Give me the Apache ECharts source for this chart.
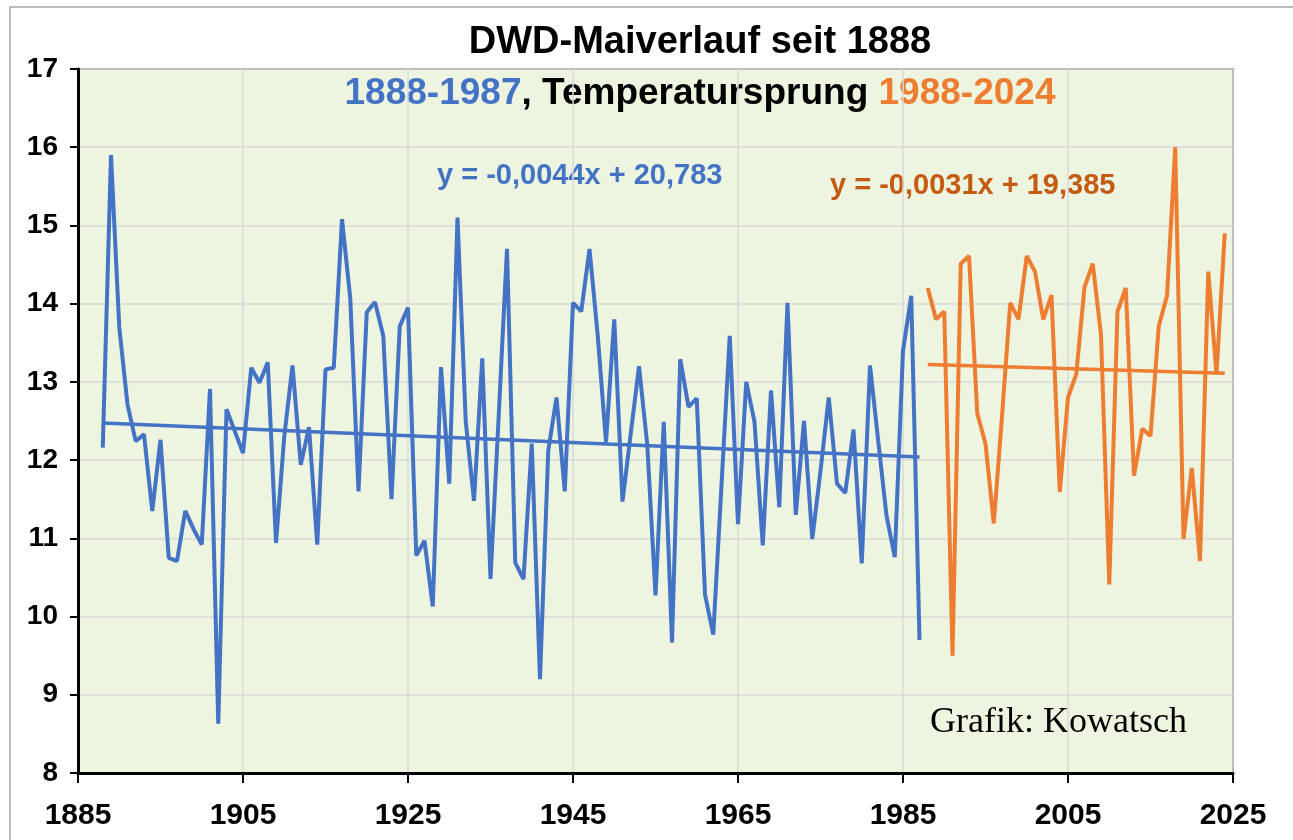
<!DOCTYPE html>
<html lang="de">
<head>
<meta charset="UTF-8">
<title>DWD-Maiverlauf seit 1888</title>
<style>
    html, body { margin: 0; padding: 0; background: #fff; }
    #echart { width: 1293px; height: 840px; }
</style>
</head>
<body>

<div id="echart"></div>

<script src="https://cdn.jsdelivr.net/npm/echarts@6/dist/echarts.min.js"></script>
<script>
    // Mai-Mitteltemperaturen Deutschland (DWD)
    const startBlau = 1888;
    const maiBis1987 = [
        12.16, 15.90, 13.70, 12.71, 12.24, 12.33, 11.35, 12.26, 10.75, 10.71,
        11.35, 11.12, 10.92, 12.91, 8.63, 12.65, 12.37, 12.09, 13.18, 12.99,
        13.25, 10.94, 12.30, 13.21, 11.94, 12.42, 10.92, 13.16, 13.18, 15.08,
        14.07, 11.60, 13.89, 14.02, 13.59, 11.50, 13.71, 13.95, 10.78, 10.97,
        10.13, 13.19, 11.70, 15.10, 12.49, 11.48, 13.30, 10.48, 12.58, 14.70,
        10.69, 10.48, 12.21, 9.20, 12.12, 12.80, 11.60, 14.01, 13.90, 14.70,
        13.59, 12.23, 13.80, 11.47, 12.34, 13.20, 12.20, 10.27, 12.49, 9.67,
        13.29, 12.68, 12.79, 10.28, 9.77, 11.68, 13.59, 11.18, 13.00, 12.49,
        10.91, 12.89, 11.40, 14.01, 11.30, 12.50, 10.99, 11.86, 12.80, 11.70,
        11.58, 12.39, 10.68, 13.21, 12.24, 11.29, 10.76, 13.40, 14.10, 9.70
    ];
    const startOrange = 1988;
    const maiAb1988 = [
        14.20, 13.80, 13.90, 9.50, 14.51, 14.61, 12.60, 12.21, 11.19, 12.56,
        14.01, 13.80, 14.61, 14.41, 13.80, 14.11, 11.59, 12.80, 13.10, 14.21,
        14.51, 13.60, 10.41, 13.90, 14.20, 11.80, 12.40, 12.31, 13.71, 14.10,
        16.00, 10.99, 11.90, 10.71, 14.41, 13.10, 14.90
    ];
    // Trendgeraden laut Beschriftung in der Grafik
    const trendBlau = { a: -0.0044, b: 20.783 };
    const trendOrange = { a: -0.0031, b: 19.385 };

    const xTicks = [1885, 1905, 1925, 1945, 1965, 1985, 2005, 2025];
    const yTicks = [8, 9, 10, 11, 12, 13, 14, 15, 16, 17];

    const blau = "#4472C4";
    const orange = "#ED7D31";
    const dunkelOrange = "#C55A11";
    const schrift = "'Liberation Sans', Arial, sans-serif";

    const toPairs = (start, arr) => arr.map((v, i) => [start + i, v]);
    const trendLine = (t, von, bis) => [[von, t.a * von + t.b], [bis, t.a * bis + t.b]];

    const myChart = echarts.init(document.getElementById("echart"));

    const lineSeries = (name, data, color, width, z) => ({
        name,
        type: "line",
        data,
        showSymbol: false,
        symbol: "none",
        lineStyle: { color, width },
        z
    });

    const option = {
        animation: false,
        backgroundColor: "#fff",
        grid: {
            left: 78,
            right: 60,
            top: 69,
            bottom: 67,
            show: true,
            backgroundColor: "#EDF5E1",
            borderColor: "#404040",
            borderWidth: 1.5
        },
        xAxis: {
            type: "value",
            min: xTicks[0],
            max: xTicks[xTicks.length - 1],
            interval: 20,
            axisLine: { show: true, lineStyle: { color: "#000", width: 3 } },
            axisTick: { show: true, length: 10, lineStyle: { color: "#000", width: 2 } },
            splitLine: { show: true, lineStyle: { color: "#D9D9D9", width: 1.5 } },
            axisLabel: {
                margin: 28,
                color: "#000",
                fontFamily: schrift,
                fontWeight: "bold",
                fontSize: 30,
                formatter: (v) => String(v)
            }
        },
        yAxis: {
            type: "value",
            min: yTicks[0],
            max: yTicks[yTicks.length - 1],
            interval: 1,
            axisLine: { show: true, lineStyle: { color: "#000", width: 3 } },
            axisTick: { show: true, length: 8, lineStyle: { color: "#000", width: 2 } },
            splitLine: { show: true, lineStyle: { color: "#D9D9D9", width: 1.5 } },
            axisLabel: {
                margin: 20,
                color: "#000",
                fontFamily: schrift,
                fontWeight: "bold",
                fontSize: 28
            }
        },
        series: [
            lineSeries("1888-1987", toPairs(startBlau, maiBis1987), blau, 4, 3),
            lineSeries("1988-2024", toPairs(startOrange, maiAb1988), orange, 4, 3),
            lineSeries("Trend 1888-1987",
                trendLine(trendBlau, startBlau, startBlau + maiBis1987.length - 1), blau, 3.5, 4),
            lineSeries("Trend 1988-2024",
                trendLine(trendOrange, startOrange, startOrange + maiAb1988.length - 1), orange, 3.5, 4)
        ],
        graphic: [
            {
                type: "rect",
                shape: { x: 10, y: 7, width: 1300, height: 900 },
                style: { fill: "none", stroke: "#A6A6A6", lineWidth: 1.5 },
                silent: true
            },
            {
                type: "text",
                x: 700, y: 43,
                style: {
                    text: "DWD-Maiverlauf seit 1888",
                    font: "bold 38px " + schrift,
                    fill: "#000",
                    align: "center",
                    verticalAlign: "middle"
                }
            },
            {
                type: "text",
                x: 700, y: 94,
                style: {
                    text: "{b|1888-1987}{k|, Temperatursprung }{o|1988-2024}",
                    align: "center",
                    verticalAlign: "middle",
                    rich: {
                        b: { font: "bold 37px " + schrift, fill: blau },
                        k: { font: "bold 37px " + schrift, fill: "#000" },
                        o: { font: "bold 37px " + schrift, fill: orange }
                    }
                }
            },
            {
                type: "text",
                x: 437, y: 176,
                style: {
                    text: "y = -0,0044x + 20,783",
                    font: "bold 29px " + schrift,
                    fill: blau,
                    verticalAlign: "middle"
                }
            },
            {
                type: "text",
                x: 830, y: 186,
                style: {
                    text: "y = -0,0031x + 19,385",
                    font: "bold 29px " + schrift,
                    fill: dunkelOrange,
                    verticalAlign: "middle"
                }
            },
            {
                type: "text",
                x: 930, y: 723,
                style: {
                    text: "Grafik: Kowatsch",
                    font: "36px 'Liberation Serif', 'DejaVu Serif', serif",
                    fill: "#000",
                    verticalAlign: "middle"
                }
            }
        ]
    };

    myChart.setOption(option);
</script>

</body>
</html>
